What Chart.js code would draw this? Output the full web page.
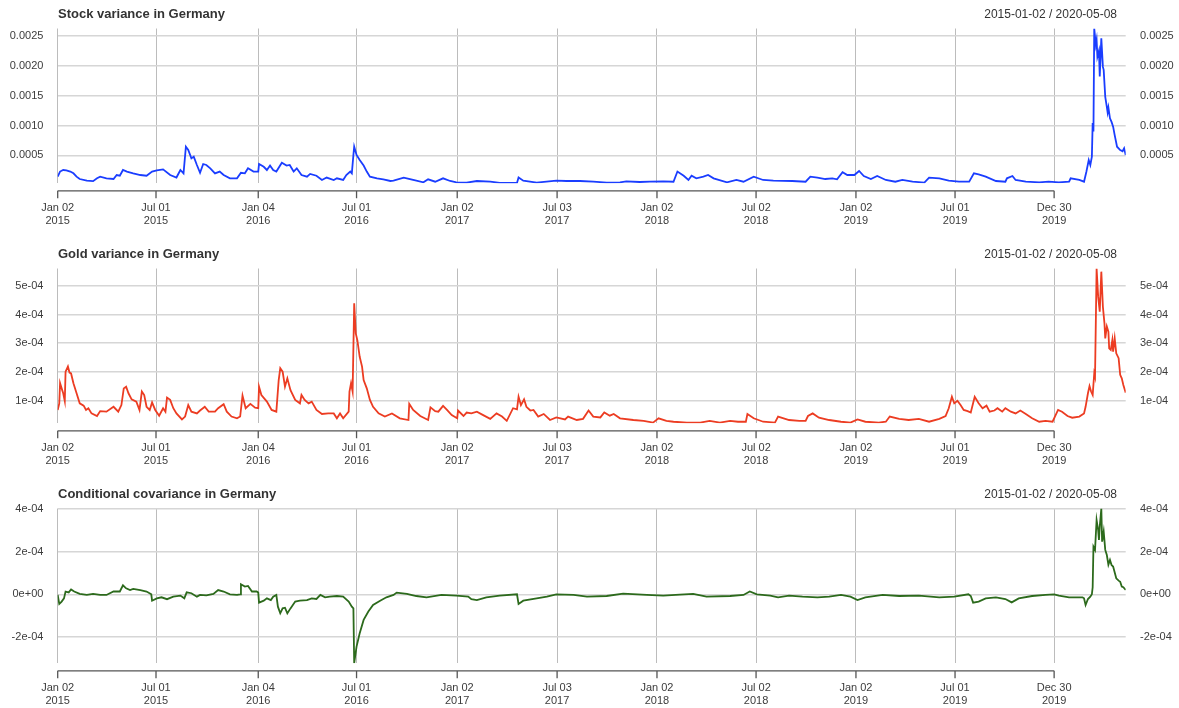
<!DOCTYPE html>
<html>
<head>
<meta charset="utf-8">
<script src="https://cdn.jsdelivr.net/npm/chart.js@4.4.1/dist/chart.umd.min.js"></script>
<style>
  html, body { margin: 0; padding: 0; background: #fff; }
  #wrap { position: relative; width: 1179px; height: 708px; overflow: hidden;
          font-family: "Liberation Sans", Arial, Helvetica, sans-serif; }
  .panel { position: absolute; left: 0; width: 1179px; }
  .panel canvas { position: absolute; left: 0; top: 0; }
  .title { position: absolute; left: 58px; top: 6px; font-size: 13px; font-weight: bold;
           color: #333; line-height: 16px; white-space: nowrap; }
  .range { position: absolute; right: 62px; top: 6px; font-size: 12px; color: #333;
           line-height: 16px; white-space: nowrap; }
</style>
</head>
<body>
<div id="wrap">
  <div class="panel" style="top:0;height:240px">
    <canvas id="stockChart" width="1179" height="240"></canvas>
    <div class="title">Stock variance in Germany</div>
    <div class="range">2015-01-02 / 2020-05-08</div>
  </div>
  <div class="panel" style="top:240px;height:240px">
    <canvas id="goldChart" width="1179" height="240"></canvas>
    <div class="title">Gold variance in Germany</div>
    <div class="range">2015-01-02 / 2020-05-08</div>
  </div>
  <div class="panel" style="top:480px;height:228px">
    <canvas id="covChart" width="1179" height="228"></canvas>
    <div class="title">Conditional covariance in Germany</div>
    <div class="range">2015-01-02 / 2020-05-08</div>
  </div>
</div>

<script>
// ---- x axis: trading-day index (2015-01-02 = 0, 2020-05-08 = lastDay) ----
const lastDay = 1358;
const tickDays = [0, 125, 255, 380, 508, 635, 762, 888, 1015, 1141, 1267];
const tickMonthDay = ['Jan 02', 'Jul 01', 'Jan 04', 'Jul 01', 'Jan 02', 'Jul 03', 'Jan 02', 'Jul 02', 'Jan 02', 'Jul 01', 'Dec 30'];
const tickYears = ['2015', '2015', '2016', '2016', '2017', '2017', '2018', '2018', '2019', '2019', '2019'];

// ---- stock variance (values in units of 1e-4) ----
const stockDays = [
  0, 3, 7, 11, 16, 20, 24, 28, 37, 45,
  50, 54, 62, 71, 75, 79, 83, 88, 96, 105,
  113, 120, 126, 134, 143, 151, 156, 160, 163, 166,
  170, 173, 177, 181, 185, 189, 194, 200, 206, 211,
  219, 228, 233, 238, 242, 249, 255, 256, 262, 266,
  270, 274, 278, 285, 291, 295, 300, 304, 310, 317,
  321, 329, 336, 342, 351, 355, 363, 367, 372, 374,
  376, 377, 380, 384, 389, 393, 397, 406, 414, 423,
  427, 440, 452, 465, 471, 480, 490, 499, 507, 520,
  533, 550, 562, 584, 586, 592, 609, 634, 647, 664,
  681, 698, 715, 723, 740, 753, 770, 783, 788, 796,
  802, 806, 812, 821, 827, 834, 851, 863, 872, 885,
  897, 910, 934, 951, 957, 966, 976, 985, 991, 998,
  1004, 1013, 1019, 1025, 1034, 1042, 1053, 1065, 1074, 1087,
  1102, 1108, 1121, 1133, 1146, 1159, 1165, 1171, 1180, 1193,
  1205, 1207, 1214, 1218, 1231, 1248, 1260, 1273, 1286, 1288,
  1299, 1305, 1308, 1311, 1313, 1315, 1316, 1317, 1318, 1320,
  1321, 1322, 1324, 1325, 1327, 1329, 1330, 1332, 1334, 1335,
  1336, 1338, 1340, 1342, 1344, 1347, 1351, 1354, 1356, 1358
];
const stockVar = [
  1.44, 2.3, 2.56, 2.5, 2.3, 2.0, 1.45, 1.05, 0.77, 0.7,
  1.17, 1.44, 1.17, 1.05, 1.72, 1.6, 2.56, 2.3, 2.0, 1.72,
  1.6, 2.3, 2.5, 2.67, 1.72, 1.3, 2.56, 2.0, 6.46, 5.9,
  4.5, 4.8, 3.4, 2.1, 3.56, 3.4, 2.84, 2.0, 2.3, 1.72,
  1.17, 1.17, 2.1, 2.0, 2.84, 2.3, 2.3, 3.56, 3.1, 2.56,
  3.3, 2.56, 2.3, 3.78, 3.3, 3.4, 2.3, 2.84, 1.72, 1.44,
  1.9, 1.6, 0.89, 1.3, 0.89, 1.17, 0.89, 1.72, 2.3, 2.0,
  5.07, 6.46, 5.07, 4.23, 3.3, 2.3, 1.44, 1.17, 1.0, 0.72,
  0.77, 1.28, 0.89, 0.5, 1.0, 0.6, 1.17, 0.72, 0.5, 0.44,
  0.72, 0.6, 0.39, 0.39, 1.3, 0.77, 0.44, 0.77, 0.72, 0.72,
  0.6, 0.44, 0.5, 0.66, 0.55, 0.6, 0.66, 0.6, 2.3, 1.6,
  0.89, 1.6, 1.17, 1.44, 1.72, 1.17, 0.5, 0.89, 0.6, 1.44,
  0.89, 0.77, 0.72, 0.6, 1.44, 1.3, 1.05, 1.17, 1.0, 2.2,
  1.72, 1.72, 2.4, 1.55, 1.05, 1.55, 0.89, 0.6, 0.89, 0.6,
  0.44, 1.28, 1.17, 0.77, 0.6, 0.6, 2.0, 1.83, 1.44, 0.72,
  0.6, 1.17, 1.55, 0.89, 0.6, 0.5, 0.6, 0.5, 0.6, 1.17,
  0.89, 0.6, 2.27, 4.23, 3.4, 4.8, 10.4, 9.0, 26.2, 23.5,
  24.3, 21.5, 22.5, 18.2, 24.6, 19.8, 19.3, 14.8, 13.1, 12.2,
  13.0, 11.2, 10.6, 9.8, 8.4, 6.45, 5.9, 5.7, 6.2, 5.07
];

// ---- gold variance (values in units of 1e-4) ----
const goldDays = [
  0, 2, 3, 5, 7, 9, 10, 13, 15, 17,
  20, 24, 28, 33, 36, 39, 43, 50, 54, 62,
  71, 77, 81, 84, 87, 90, 94, 100, 104, 107,
  110, 113, 117, 120, 124, 129, 134, 137, 139, 143,
  147, 151, 158, 162, 166, 170, 177, 181, 187, 192,
  200, 204, 211, 215, 221, 228, 232, 235, 239, 245,
  251, 255, 256, 259, 266, 272, 278, 281, 283, 286,
  289, 292, 296, 302, 308, 310, 314, 319, 323, 329,
  336, 344, 351, 355, 359, 363, 370, 371, 373, 375,
  377, 379, 381, 384, 387, 389, 393, 397, 401, 408,
  416, 425, 435, 446, 447, 452, 461, 471, 474, 480,
  484, 490, 495, 501, 508, 509, 516, 520, 526, 533,
  541, 550, 558, 565, 571, 579, 584, 586, 589, 593,
  596, 601, 605, 611, 618, 626, 634, 645, 649, 660,
  668, 675, 681, 690, 695, 702, 707, 715, 732, 745,
  757, 764, 774, 783, 800, 817, 829, 842, 855, 865,
  875, 877, 885, 897, 912, 916, 930, 943, 951, 954,
  960, 968, 981, 996, 1008, 1017, 1027, 1044, 1053, 1058,
  1070, 1082, 1095, 1108, 1121, 1129, 1133, 1137, 1140, 1144,
  1148, 1152, 1157, 1161, 1166, 1171, 1176, 1181, 1185, 1191,
  1195, 1201, 1205, 1212, 1218, 1224, 1231, 1239, 1248, 1256,
  1265, 1268, 1272, 1277, 1284, 1290, 1299, 1305, 1307, 1310,
  1312, 1314, 1316, 1318, 1319, 1321, 1323, 1325, 1327, 1329,
  1331, 1332, 1334, 1336, 1337, 1339, 1341, 1342, 1344, 1346,
  1349, 1351, 1353, 1355, 1358
];
const goldVar = [
  0.68, 0.91, 1.61, 1.43, 1.26, 0.99, 2.01, 2.19, 1.98, 1.95,
  1.61, 1.26, 0.91, 0.83, 0.68, 0.74, 0.56, 0.47, 0.64, 0.62,
  0.79, 0.62, 0.85, 1.43, 1.49, 1.26, 1.05, 0.97, 0.68, 1.32,
  1.2, 0.79, 0.68, 0.94, 0.68, 0.48, 0.74, 0.62, 1.11, 1.03,
  0.74, 0.56, 0.35, 0.45, 0.85, 0.62, 0.56, 0.66, 0.79, 0.62,
  0.62, 0.74, 0.88, 0.62, 0.45, 0.39, 0.45, 1.18, 0.74, 0.89,
  0.76, 0.74, 1.49, 1.2, 0.97, 0.68, 0.62, 1.72, 2.13, 2.01,
  1.49, 1.78, 1.37, 1.03, 0.91, 1.2, 1.03, 0.91, 0.97, 0.68,
  0.54, 0.56, 0.56, 0.39, 0.56, 0.39, 0.62, 1.32, 1.61, 1.32,
  4.39, 3.34, 3.11, 2.53, 2.19, 1.72, 1.43, 1.03, 0.79, 0.56,
  0.45, 0.56, 0.39, 0.33, 0.89, 0.68, 0.47, 0.33, 0.77, 0.64,
  0.62, 0.82, 0.68, 0.5, 0.39, 0.66, 0.47, 0.59, 0.56, 0.62,
  0.5, 0.37, 0.56, 0.45, 0.3, 0.74, 0.7, 1.14, 0.85, 1.05,
  0.79, 0.66, 0.68, 0.45, 0.54, 0.33, 0.42, 0.35, 0.45, 0.33,
  0.37, 0.66, 0.45, 0.42, 0.59, 0.48, 0.54, 0.39, 0.33, 0.3,
  0.24, 0.39, 0.3, 0.27, 0.24, 0.24, 0.3, 0.24, 0.3, 0.27,
  0.27, 0.54, 0.39, 0.27, 0.24, 0.45, 0.33, 0.3, 0.3, 0.47,
  0.56, 0.41, 0.33, 0.27, 0.24, 0.35, 0.27, 0.24, 0.27, 0.45,
  0.37, 0.33, 0.37, 0.27, 0.37, 0.47, 0.74, 1.14, 0.91, 1.0,
  0.85, 0.68, 0.64, 0.59, 1.14, 0.91, 0.74, 0.83, 0.62, 0.66,
  0.74, 0.62, 0.74, 0.62, 0.56, 0.66, 0.54, 0.39, 0.27, 0.3,
  0.27, 0.45, 0.68, 0.62, 0.47, 0.41, 0.45, 0.56, 0.79, 1.26,
  1.51, 1.32, 1.2, 1.95, 1.84, 5.6, 4.62, 4.1, 5.49, 4.27,
  3.69, 3.17, 3.58, 3.4, 2.82, 2.77, 3.11, 2.71, 3.17, 2.65,
  2.48, 1.9, 1.78, 1.55, 1.28
];

// ---- conditional covariance (values in units of 1e-4) ----
const covDays = [
  0, 2, 5, 8, 10, 14, 17, 21, 28, 37,
  45, 54, 62, 71, 79, 83, 87, 92, 96, 105,
  113, 119, 120, 126, 132, 139, 147, 156, 161, 164,
  170, 177, 181, 189, 198, 204, 211, 219, 228, 232,
  233, 238, 242, 247, 253, 255, 256, 262, 266, 271,
  274, 278, 280, 283, 286, 289, 292, 296, 302, 308,
  317, 323, 329, 334, 340, 346, 355, 363, 370, 374,
  376, 377, 380, 384, 389, 395, 401, 410, 418, 427,
  431, 444, 456, 469, 488, 507, 522, 526, 533, 545,
  562, 584, 586, 592, 609, 622, 634, 656, 673, 698,
  719, 749, 770, 791, 808, 825, 855, 872, 880, 889,
  906, 916, 930, 947, 966, 981, 996, 1008, 1017, 1027,
  1049, 1070, 1095, 1121, 1140, 1158, 1161, 1164, 1171, 1180,
  1193, 1205, 1213, 1222, 1239, 1256, 1267, 1273, 1286, 1303,
  1305, 1307, 1310, 1313, 1315, 1316, 1317, 1319, 1321, 1323,
  1324, 1325, 1327, 1328, 1330, 1332, 1334, 1336, 1338, 1340,
  1342, 1346, 1349, 1351, 1353, 1355, 1358
];
const covVals = [
  -0.03, -0.45, -0.34, -0.19, 0.13, 0.09, 0.23, 0.13, 0.02, -0.03,
  0.02, -0.03, -0.03, 0.13, 0.13, 0.42, 0.28, 0.2, 0.25, 0.2,
  0.13, 0.0, -0.3, -0.19, -0.14, -0.23, -0.11, -0.06, -0.19, 0.09,
  0.05, -0.11, -0.03, -0.05, 0.02, 0.2, 0.13, 0.0, -0.03, 0.0,
  0.47, 0.36, 0.39, 0.13, 0.13, 0.08, -0.39, -0.3, -0.19, -0.27,
  -0.11, -0.03, -0.58, -0.89, -0.66, -0.63, -0.89, -0.66, -0.34, -0.3,
  -0.27, -0.19, -0.22, -0.03, -0.14, -0.11, -0.08, -0.11, -0.34, -0.58,
  -0.66, -3.23, -2.45, -1.83, -1.2, -0.81, -0.5, -0.3, -0.14, -0.03,
  0.08, 0.02, -0.08, -0.14, -0.03, -0.06, -0.11, -0.23, -0.27, -0.14,
  -0.06, 0.0, -0.45, -0.3, -0.19, -0.11, 0.0, -0.03, -0.11, -0.08,
  0.03, -0.03, -0.06, -0.02, 0.02, -0.11, -0.08, -0.03, 0.13, 0.0,
  -0.06, -0.14, -0.06, -0.11, -0.14, -0.11, -0.03, -0.11, -0.27, -0.14,
  -0.03, -0.08, -0.06, -0.14, -0.11, 0.0, -0.08, -0.39, -0.34, -0.19,
  -0.14, -0.22, -0.38, -0.19, -0.08, -0.03, 0.0, -0.06, -0.14, -0.14,
  -0.19, -0.5, -0.22, -0.11, 0.0, 0.33, 2.23, 2.08, 3.48, 3.01,
  2.55, 3.17, 4.02, 2.47, 2.94, 2.08, 1.84, 1.39, 1.61, 1.37,
  1.3, 0.75, 0.64, 0.59, 0.36, 0.33, 0.2
];

// ---- y axis ticks and labels for each panel ----
const stockTicks = [0.0005, 0.0010, 0.0015, 0.0020, 0.0025];
const stockTickLabels = ['0.0005', '0.0010', '0.0015', '0.0020', '0.0025'];
const goldTicks = [1e-4, 2e-4, 3e-4, 4e-4, 5e-4];
const goldTickLabels = ['1e-04', '2e-04', '3e-04', '4e-04', '5e-04'];
const covTicks = [-2e-4, 0, 2e-4, 4e-4];
const covTickLabels = ['-2e-04', '0e+00', '2e-04', '4e-04'];

const UNIT = 1e-4;
const FONT_FAMILY = '"Liberation Sans", Arial, Helvetica, sans-serif';

Chart.defaults.font.family = FONT_FAMILY;
Chart.defaults.font.size = 11;
Chart.defaults.color = '#3c3c3c';

// Detached time axis: a baseline spanning the first to last tick, with tick marks below it
const xtsAxisPlugin = {
  id: 'xtsAxis',
  afterDraw(chart) {
    const xs = chart.scales.x;
    const ctx = chart.ctx;
    const y0 = chart.chartArea.bottom + 7.6;
    const xStart = xs.getPixelForValue(tickDays[0]);
    const xEnd = xs.getPixelForValue(tickDays[tickDays.length - 1]);
    ctx.save();
    ctx.strokeStyle = '#555';
    ctx.lineWidth = 1.3;
    ctx.beginPath();
    ctx.moveTo(xStart, y0);
    ctx.lineTo(xEnd, y0);
    tickDays.forEach(d => {
      const px = xs.getPixelForValue(d);
      ctx.moveTo(px, y0);
      ctx.lineTo(px, y0 + 7.5);
    });
    ctx.stroke();
    ctx.restore();
  }
};

function makePanel(canvasId, days, vals, color, yMin, yMax, yTicks, yLabels) {
  const canvas = document.getElementById(canvasId);
  const H = canvas.height;
  const plotTop = 28.5, plotBottom = 183.2;
  const setTicks = (list) => (scale) => { scale.ticks = list.map(v => ({ value: v })); };
  return new Chart(canvas, {
    type: 'line',
    data: {
      datasets: [{
        data: days.map((d, i) => ({ x: d, y: vals[i] * UNIT })),
        borderColor: color,
        borderWidth: 1.8,
        pointRadius: 0,
        tension: 0,
        fill: false,
        yAxisID: 'y'
      }]
    },
    options: {
      responsive: false,
      devicePixelRatio: 1,
      animation: false,
      events: [],
      layout: { padding: { top: plotTop, left: 0, right: 0, bottom: 0 }, autoPadding: false },
      plugins: { legend: { display: false }, tooltip: { enabled: false } },
      scales: {
        x: {
          type: 'linear',
          min: 0,
          max: lastDay,
          afterBuildTicks: setTicks(tickDays),
          afterFit: (s) => { s.height = H - plotBottom; },
          grid: { color: '#bcbcbc', lineWidth: 1, drawTicks: false },
          border: { display: false },
          ticks: {
            autoSkip: false,
            maxRotation: 0,
            padding: 18.8,
            color: '#3c3c3c',
            font: { size: 11, lineHeight: 1.15 },
            callback: (v, i) => [tickMonthDay[i], tickYears[i]]
          }
        },
        y: {
          type: 'linear',
          position: 'left',
          min: yMin,
          max: yMax,
          afterBuildTicks: setTicks(yTicks),
          afterFit: (s) => { s.width = 57.7; },
          grid: { color: '#d6d6d6', lineWidth: 1.5, drawTicks: false },
          border: { display: false },
          ticks: { padding: 14.3, color: '#3c3c3c', callback: (v, i) => yLabels[i] }
        },
        yRight: {
          type: 'linear',
          position: 'right',
          min: yMin,
          max: yMax,
          afterBuildTicks: setTicks(yTicks),
          afterFit: (s) => { s.width = 1179 - 1125.7; },
          grid: { display: false, drawTicks: false },
          border: { display: false },
          ticks: { padding: 14.3, color: '#3c3c3c', callback: (v, i) => yLabels[i] }
        }
      }
    },
    plugins: [xtsAxisPlugin]
  });
}

makePanel('stockChart', stockDays, stockVar, '#1a3dff', 0.0000351, 0.002622, stockTicks, stockTickLabels);
makePanel('goldChart', goldDays, goldVar, '#ec3c22', 0.219e-4, 5.600e-4, goldTicks, goldTickLabels);
makePanel('covChart', covDays, covVals, '#2c6a1c', -3.23e-4, 4.022e-4, covTicks, covTickLabels);
</script>
</body>
</html>
